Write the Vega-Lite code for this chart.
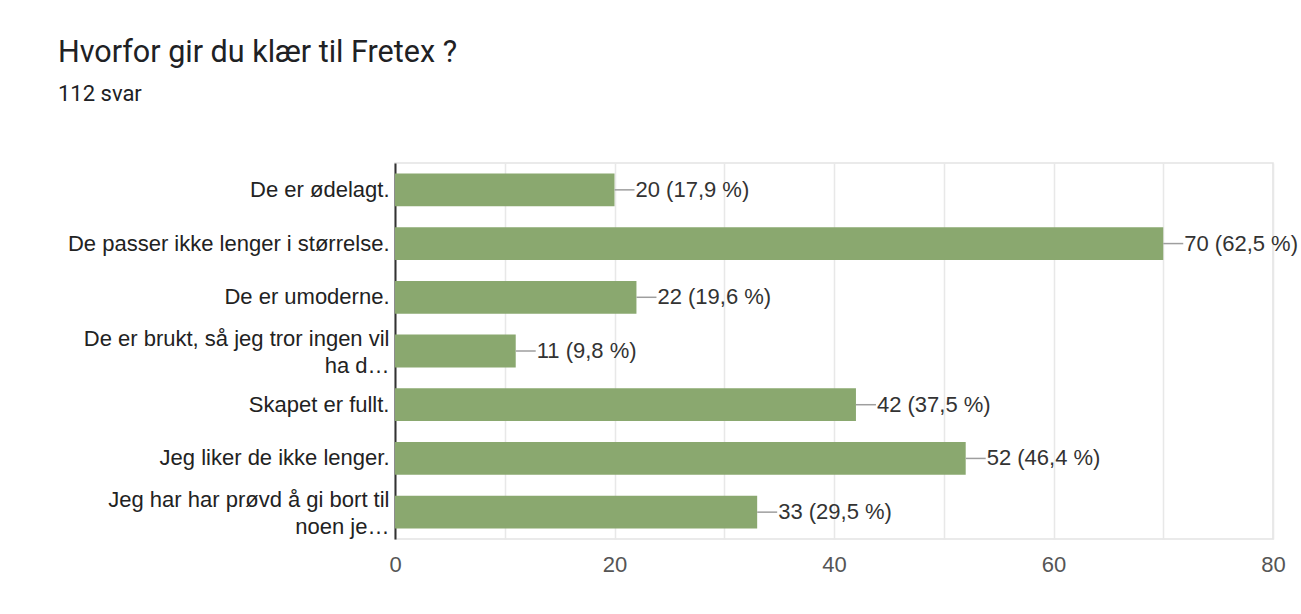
{
  "$schema": "https://vega.github.io/schema/vega-lite/v6.json",
  "autosize": {"type": "none"},
  "width": 878,
  "height": 376,
  "padding": {"left": 395, "top": 163, "right": 28, "bottom": 75},
  "background": "white",
  "title": {
    "text": "Hvorfor gir du klær til Fretex ?",
    "subtitle": "112 svar",
    "anchor": "start",
    "frame": "group",
    "dx": -337,
    "offset": 58,
    "font": "Roboto",
    "fontSize": 30.5,
    "fontWeight": "normal",
    "color": "#202124",
    "subtitleFont": "Roboto",
    "subtitleFontSize": 22,
    "subtitleColor": "#202124",
    "subtitlePadding": 16
  },
  "data": {
    "values": [
      {"reason": "De er ødelagt.", "count": 20, "label": "20 (17,9 %)"},
      {"reason": "De passer ikke lenger i størrelse.", "count": 70, "label": "70 (62,5 %)"},
      {"reason": "De er umoderne.", "count": 22, "label": "22 (19,6 %)"},
      {"reason": "De er brukt, så jeg tror ingen vil\nha d…", "count": 11, "label": "11 (9,8 %)"},
      {"reason": "Skapet er fullt.", "count": 42, "label": "42 (37,5 %)"},
      {"reason": "Jeg liker de ikke lenger.", "count": 52, "label": "52 (46,4 %)"},
      {"reason": "Jeg har har prøvd å gi bort til\nnoen je…", "count": 33, "label": "33 (29,5 %)"}
    ]
  },
  "config": {
    "view": {"stroke": "#e3e3e3", "strokeWidth": 1.5},
    "font": "Liberation Sans"
  },
  "encoding": {
    "y": {
      "field": "reason",
      "type": "nominal",
      "sort": null,
      "title": null,
      "scale": {"paddingInner": 0.39, "paddingOuter": 0.195},
      "axis": {
        "labelExpr": "split(datum.value, '\\n')",
        "labelFont": "Liberation Sans",
        "labelFontSize": 22,
        "labelColor": "#222222",
        "labelLimit": 500,
        "labelPadding": 6,
        "labelLineHeight": 27,
        "labelOffset": {"condition": {"test": "indexof(datum.value, '\\n') >= 0", "value": -12}, "value": 0},
        "ticks": false,
        "domainColor": "#333333",
        "domainWidth": 2,
        "grid": false
      }
    }
  },
  "layer": [
    {
      "mark": {"type": "bar", "color": "#8aa86f"},
      "encoding": {
        "x": {
          "field": "count",
          "type": "quantitative",
          "title": null,
          "scale": {"domain": [0, 80], "nice": false},
          "axis": {
            "values": [0, 10, 20, 30, 40, 50, 60, 70, 80],
            "labelExpr": "datum.value % 20 == 0 ? datum.label : ''",
            "labelFlush": false,
            "domain": false,
            "ticks": false,
            "gridColor": "#e8e8e8",
            "gridWidth": 1.5,
            "labelFont": "Liberation Sans",
            "labelFontSize": 22,
            "labelColor": "#555555",
            "labelPadding": 15
          }
        }
      }
    },
    {
      "mark": {"type": "rule", "x2Offset": 20, "color": "#9e9e9e", "strokeWidth": 1.5},
      "encoding": {
        "x": {"field": "count", "type": "quantitative"},
        "x2": {"field": "count"}
      }
    },
    {
      "mark": {"type": "text", "align": "left", "baseline": "middle", "dx": 21, "fontSize": 22, "color": "#333333", "font": "Liberation Sans"},
      "encoding": {
        "x": {"field": "count", "type": "quantitative"},
        "text": {"field": "label"}
      }
    }
  ]
}
